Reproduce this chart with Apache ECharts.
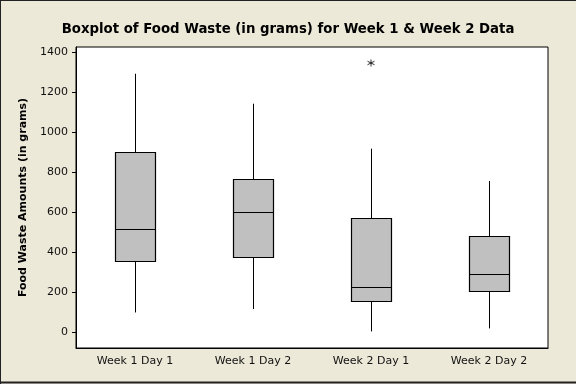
<!DOCTYPE html>
<html>
<head>
<meta charset="utf-8">
<script src="https://cdn.jsdelivr.net/npm/echarts@6/dist/echarts.min.js"></script>
<style>
html,body{margin:0;padding:0;background:#ECE9D8;}
#c{width:576px;height:384px;}
</style>
</head>
<body>
<div id="c"></div>
<script>
const categories = ['Week 1 Day 1', 'Week 1 Day 2', 'Week 2 Day 1', 'Week 2 Day 2'];
const whiskerLow = [98, 115, 3, 18];
const q1 = [355, 376, 155, 205];
const median = [516, 601, 225, 290];
const q3 = [901, 766, 569, 479];
const whiskerHigh = [1293, 1143, 918, 756];
const outliers = [[2, 1347]];
const yTicks = [0, 200, 400, 600, 800, 1000, 1200, 1400];

const boxData = categories.map((c, i) => [i, whiskerLow[i], q1[i], median[i], q3[i], whiskerHigh[i]]);

const FONT = 'DejaVu Sans';
const chart = echarts.init(document.getElementById('c'), null, {renderer: 'canvas'});

function renderBox(params, api) {
  const i = api.value(0);
  const pLow = api.coord([i, api.value(1)]);
  const pQ1 = api.coord([i, api.value(2)]);
  const pMed = api.coord([i, api.value(3)]);
  const pQ3 = api.coord([i, api.value(4)]);
  const pHigh = api.coord([i, api.value(5)]);
  const w = api.size([1, 0])[0] * 0.34;
  const x = Math.round(pMed[0]) + 0.5;
  const half = w / 2;
  const lineStyle = {stroke: '#000', lineWidth: 1};
  const left = Math.round(x - half) + 0.5;
  const bw = Math.round(w);
  return {
    type: 'group',
    children: [
      {type: 'line', shape: {x1: x, y1: pHigh[1], x2: x, y2: pQ3[1]}, style: lineStyle},
      {type: 'line', shape: {x1: x, y1: pQ1[1], x2: x, y2: pLow[1]}, style: lineStyle},
      {type: 'rect', shape: {x: left, y: Math.round(pQ3[1]) + 0.5, width: bw, height: Math.round(pQ1[1] - pQ3[1])},
        style: {fill: '#C0C0C0', stroke: '#000', lineWidth: 1.2}},
      {type: 'line', shape: {x1: left, y1: Math.round(pMed[1]) + 0.5, x2: left + bw, y2: Math.round(pMed[1]) + 0.5},
        style: {stroke: '#000', lineWidth: 1.2}}
    ]
  };
}

chart.setOption({
  backgroundColor: '#ECE9D8',
  animation: false,
  title: {
    text: 'Boxplot of Food Waste (in grams) for Week 1 & Week 2 Data',
    left: 'center',
    top: 18,
    textStyle: {fontFamily: FONT, fontWeight: 'bold', fontSize: 13.3, color: '#000'}
  },
  grid: {
    left: 76, right: 28, top: 47, bottom: 36,
    show: true, backgroundColor: '#fff', borderColor: '#000', borderWidth: 1
  },
  xAxis: {
    type: 'category',
    data: categories,
    boundaryGap: true,
    axisLine: {onZero: false, lineStyle: {color: '#000', width: 1}},
    axisTick: {alignWithLabel: true, length: 3, lineStyle: {color: '#000'}},
    axisLabel: {fontFamily: FONT, fontSize: 11, color: '#111', margin: 8},
    splitLine: {show: false}
  },
  yAxis: {
    type: 'value',
    min: -80,
    max: 1427,
    name: 'Food Waste Amounts (in grams)',
    nameLocation: 'middle',
    nameGap: 46,
    nameTextStyle: {fontFamily: FONT, fontWeight: 'bold', fontSize: 11, color: '#000'},
    axisLine: {show: true, lineStyle: {color: '#000', width: 1}},
    axisTick: {show: true, length: 4, customValues: yTicks, lineStyle: {color: '#000'}},
    axisLabel: {fontFamily: FONT, fontSize: 11, color: '#111', margin: 8, customValues: yTicks,
      formatter: v => String(v)},
    splitLine: {show: false}
  },
  series: [
    {
      type: 'custom',
      renderItem: renderBox,
      data: boxData,
      encode: {x: 0, y: [1, 2, 3, 4, 5]},
      z: 2
    },
    {
      type: 'scatter',
      data: outliers,
      symbol: 'path://M5,0L5,10M0.67,2.5L9.33,7.5M0.67,7.5L9.33,2.5',
      symbolSize: 7,
      itemStyle: {color: 'rgba(0,0,0,0)', borderColor: '#000', borderWidth: 1},
      z: 3
    }
  ],
  graphic: [
    {type: 'line', shape: {x1: 0.5, y1: 0, x2: 0.5, y2: 384}, style: {stroke: '#222', lineWidth: 1}},
    {type: 'line', shape: {x1: 0, y1: 0.5, x2: 576, y2: 0.5}, style: {stroke: '#222', lineWidth: 1}},
    {type: 'line', shape: {x1: 0, y1: 382.5, x2: 576, y2: 382.5}, style: {stroke: '#222', lineWidth: 2}}
  ]
});
</script>
</body>
</html>
